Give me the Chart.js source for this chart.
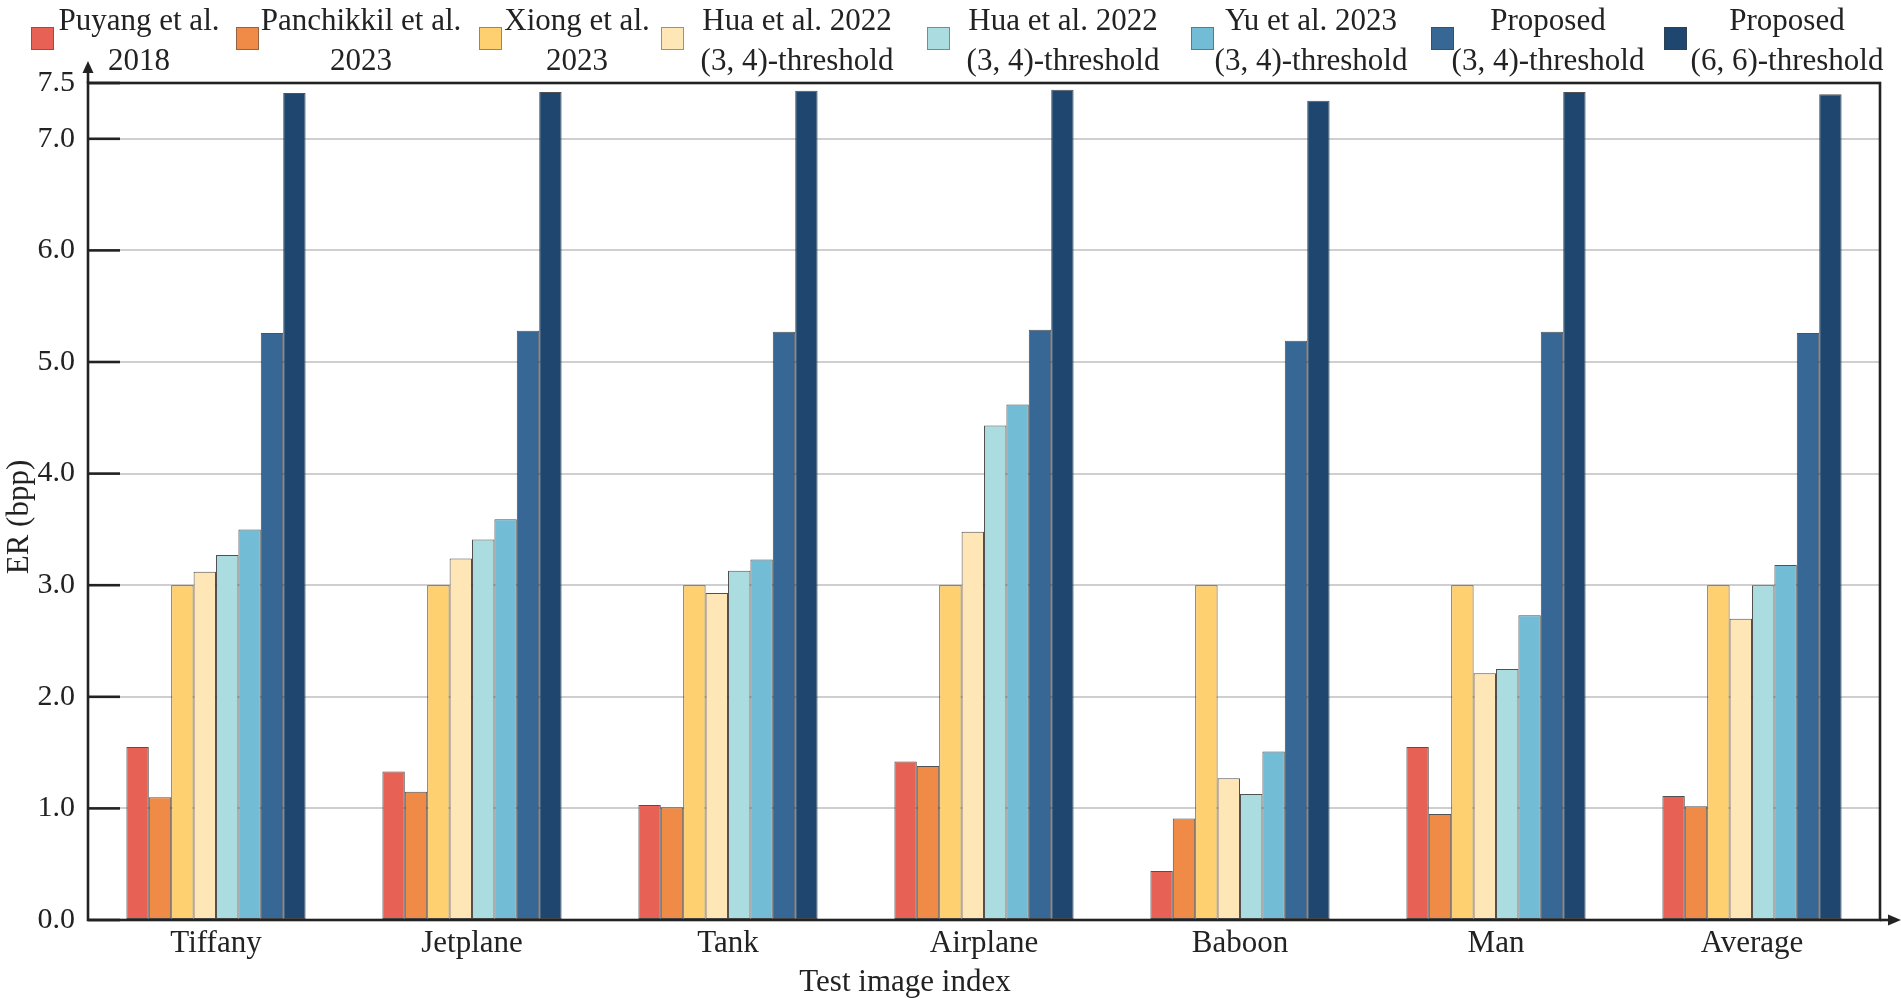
<!DOCTYPE html>
<html>
<head>
<meta charset="utf-8">
<title>ER comparison</title>
<script src="https://cdn.jsdelivr.net/npm/chart.js@4.4.1/dist/chart.umd.min.js"></script>
<style>
    body { margin: 0; background: #fff; }
    #wrap { position: relative; width: 1901px; height: 998px; }
    #chart { position: absolute; left: 0; top: 0; }
    #legend {
        position: absolute; left: 0; top: 0; width: 1901px; height: 82px;
        font-family: "Liberation Serif", "Times New Roman", serif;
        font-size: 31px; line-height: 40px; color: #222;
    }
    .box { position: absolute; top: 27px; width: 21px; height: 21px; border: 1px solid rgba(60,60,60,0.5); }
    .label { position: absolute; top: 0; text-align: center; white-space: nowrap; transform: translateX(-50%); }
</style>
</head>
<body>
<div id="wrap">
    <canvas id="chart" width="1901" height="998"></canvas>
    <div id="legend"></div>
</div>
<script>
const categories = ['Tiffany', 'Jetplane', 'Tank', 'Airplane', 'Baboon', 'Man', 'Average'];

const seriesNames = [
    ['Puyang et al.', '2018'],
    ['Panchikkil et al.', '2023'],
    ['Xiong et al.', '2023'],
    ['Hua et al. 2022', '(3, 4)-threshold'],
    ['Hua et al. 2022', '(3, 4)-threshold'],
    ['Yu et al. 2023', '(3, 4)-threshold'],
    ['Proposed', '(3, 4)-threshold'],
    ['Proposed', '(6, 6)-threshold']
];

const puyang2018 = [1.55, 1.33, 1.03, 1.42, 0.44, 1.55, 1.11];
const panchikkil2023 = [1.10, 1.15, 1.01, 1.38, 0.91, 0.95, 1.02];
const xiong2023 = [3.00, 3.00, 3.00, 3.00, 3.00, 3.00, 3.00];
const hua2022a = [3.12, 3.24, 2.93, 3.48, 1.27, 2.21, 2.70];
const hua2022b = [3.27, 3.41, 3.13, 4.43, 1.13, 2.25, 3.00];
const yu2023 = [3.50, 3.59, 3.23, 4.62, 1.51, 2.73, 3.18];
const proposed34 = [5.26, 5.28, 5.27, 5.29, 5.19, 5.27, 5.26];
const proposed66 = [7.41, 7.42, 7.43, 7.44, 7.34, 7.42, 7.40];

const yTicks = [0, 1, 2, 3, 4, 5, 6, 7, 7.5];

const colors = ['#e76254', '#ef8a47', '#ffd06f', '#ffe6b7', '#aadce0', '#72bcd5', '#376795', '#1e466e'];
const seriesValues = [puyang2018, panchikkil2023, xiong2023, hua2022a, hua2022b, yu2023, proposed34, proposed66];

// legend layout (px): left edge of each swatch, centre of each label
const legendBoxLeft = [31, 236, 479, 661, 927, 1191, 1431, 1664];
const legendTextCenter = [139, 361, 577, 797, 1063, 1311, 1548, 1787];

const FONT = '"Liberation Serif", "Times New Roman", serif';
const INK = '#222';

// frame, inner ticks, arrows and axis titles
const framePlugin = {
    id: 'frame',
    afterDraw(chart) {
        const ctx = chart.ctx;
        const a = chart.chartArea;
        const y = chart.scales.y;
        ctx.save();
        ctx.strokeStyle = INK;
        ctx.fillStyle = INK;
        ctx.lineWidth = 2.6;

        // inner tick marks
        y.ticks.forEach(t => {
            const py = y.getPixelForValue(t.value);
            ctx.beginPath();
            ctx.moveTo(a.left, py);
            ctx.lineTo(a.left + 32, py);
            ctx.stroke();
        });

        ctx.strokeRect(a.left, a.top, a.right - a.left, a.bottom - a.top);

        // y arrow
        ctx.beginPath();
        ctx.moveTo(a.left, a.top);
        ctx.lineTo(a.left, a.top - 10);
        ctx.stroke();
        ctx.beginPath();
        ctx.moveTo(a.left - 5.5, a.top - 10);
        ctx.lineTo(a.left + 5.5, a.top - 10);
        ctx.lineTo(a.left, a.top - 22);
        ctx.closePath();
        ctx.fill();

        // x arrow
        ctx.beginPath();
        ctx.moveTo(a.right, a.bottom);
        ctx.lineTo(a.right + 8, a.bottom);
        ctx.stroke();
        ctx.beginPath();
        ctx.moveTo(a.right + 8, a.bottom - 5.5);
        ctx.lineTo(a.right + 8, a.bottom + 5.5);
        ctx.lineTo(a.right + 21, a.bottom);
        ctx.closePath();
        ctx.fill();

        // axis titles
        ctx.font = '31px ' + FONT;
        ctx.textAlign = 'center';
        ctx.textBaseline = 'alphabetic';
        ctx.fillText('Test image index', 905, 991);
        ctx.translate(28, 517);
        ctx.rotate(-Math.PI / 2);
        ctx.fillText('ER (bpp)', 0, 0);
        ctx.restore();
    }
};

const chart = new Chart(document.getElementById('chart'), {
    type: 'bar',
    data: {
        labels: categories,
        datasets: seriesValues.map((vals, i) => ({
            label: seriesNames[i].join(' '),
            data: vals,
            backgroundColor: colors[i],
            borderColor: 'rgba(50,50,50,0.85)',
            borderWidth: 1,
            borderSkipped: false,
            barPercentage: 1,
            categoryPercentage: 0.7
        }))
    },
    options: {
        responsive: false,
        animation: false,
        layout: { padding: { top: 83, right: 21, left: 0, bottom: 0 } },
        plugins: {
            legend: { display: false },
            tooltip: { enabled: false }
        },
        scales: {
            x: {
                grid: { display: false },
                border: { display: false },
                ticks: {
                    color: INK,
                    font: { family: FONT, size: 31 },
                    padding: -3
                },
                afterFit: scale => { scale.height = 78; }
            },
            y: {
                min: 0,
                max: 7.5,
                afterBuildTicks: scale => {
                    scale.ticks = yTicks.map(v => ({ value: v }));
                },
                grid: {
                    drawTicks: false,
                    lineWidth: 2,
                    color: ctx => (ctx.tick && ctx.tick.value > 0 && ctx.tick.value < 7.5) ? '#cfcfcf' : 'rgba(0,0,0,0)'
                },
                border: { display: false },
                ticks: {
                    color: INK,
                    font: { family: FONT, size: 30 },
                    padding: 13,
                    callback: v => Number(v).toFixed(1)
                },
                afterFit: scale => { scale.width = 88; }
            }
        }
    },
    plugins: [framePlugin]
});

// html legend built from the datasets
const legend = document.getElementById('legend');
chart.data.datasets.forEach((ds, i) => {
    const box = document.createElement('div');
    box.className = 'box';
    box.style.left = legendBoxLeft[i] + 'px';
    box.style.background = ds.backgroundColor;
    const label = document.createElement('div');
    label.className = 'label';
    label.style.left = legendTextCenter[i] + 'px';
    label.innerHTML = seriesNames[i].join('<br>');
    legend.appendChild(box);
    legend.appendChild(label);
});
</script>
</body>
</html>
